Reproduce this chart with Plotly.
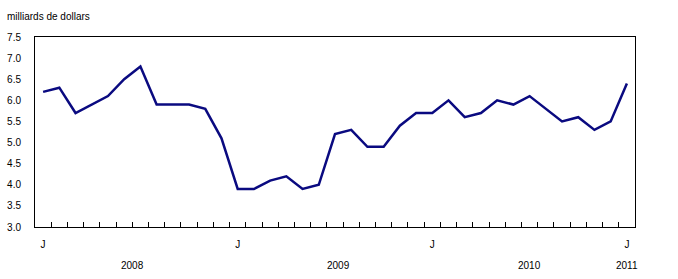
import plotly.graph_objects as go

months = list(range(37))  # Jan 2008 .. Jan 2011
values = [6.2, 6.3, 5.7, 5.9, 6.1, 6.5, 6.8, 5.9, 5.9, 5.9, 5.8, 5.1, 3.9,
          3.9, 4.1, 4.2, 3.9, 4.0, 5.2, 5.3, 4.9, 4.9, 5.4, 5.7, 5.7,
          6.0, 5.6, 5.7, 6.0, 5.9, 6.1, 5.8, 5.5, 5.6, 5.3, 5.5, 6.4]
jan_pos = [0, 12, 24, 36]
jan_labels = ["J", "J", "J", "J"]
year_labels = ["2008", "2009", "2010", "2011"]
year_pos = [5.5, 18.2, 30.0, 36.0]
y_ticks = [3.0, 3.5, 4.0, 4.5, 5.0, 5.5, 6.0, 6.5, 7.0, 7.5]

font = "Liberation Sans, Arial, sans-serif"

fig = go.Figure()
fig.add_trace(go.Scatter(x=months, y=values, mode="lines",
                         line=dict(color="#0A0A80", width=2.5),
                         showlegend=False, hoverinfo="skip"))

fig.update_layout(
    width=678, height=279,
    margin=dict(l=35, r=43, t=37, b=52),
    paper_bgcolor="white", plot_bgcolor="white",
    font=dict(family=font, size=10, color="black"),
    xaxis=dict(range=[-0.5, 36.5], showgrid=False, zeroline=False,
               automargin=False,
               showline=True, linecolor="black", linewidth=1, mirror=True,
               tickmode="array", tickvals=jan_pos, ticktext=jan_labels,
               ticks="", ticklabelstandoff=8,
               tickfont=dict(family=font, size=10),
               minor=dict(tickmode="array",
                          tickvals=[m + 0.5 for m in months[:-1]],
                          ticks="inside", ticklen=5, tickcolor="black",
                          tickwidth=1, showgrid=False)),
    yaxis=dict(range=[3.0, 7.5], showgrid=False, zeroline=False,
               automargin=False,
               showline=True, linecolor="black", linewidth=1, mirror=True,
               tickmode="array", tickvals=y_ticks,
               ticktext=[f"{v:.1f}" for v in y_ticks],
               ticks="", ticklabelstandoff=11,
               tickfont=dict(family=font, size=10)),
)

for yl, yp in zip(year_labels, year_pos):
    fig.add_annotation(x=yp, y=0, xref="x", yref="paper", yshift=-38,
                       text=yl, showarrow=False, yanchor="middle",
                       font=dict(family=font, size=10))

fig.add_annotation(x=0, y=1, xref="paper", yref="paper", xshift=-30, yshift=21,
                   text="milliards de dollars", showarrow=False,
                   xanchor="left", yanchor="middle",
                   font=dict(family=font, size=10))

fig.write_html("out.html")
